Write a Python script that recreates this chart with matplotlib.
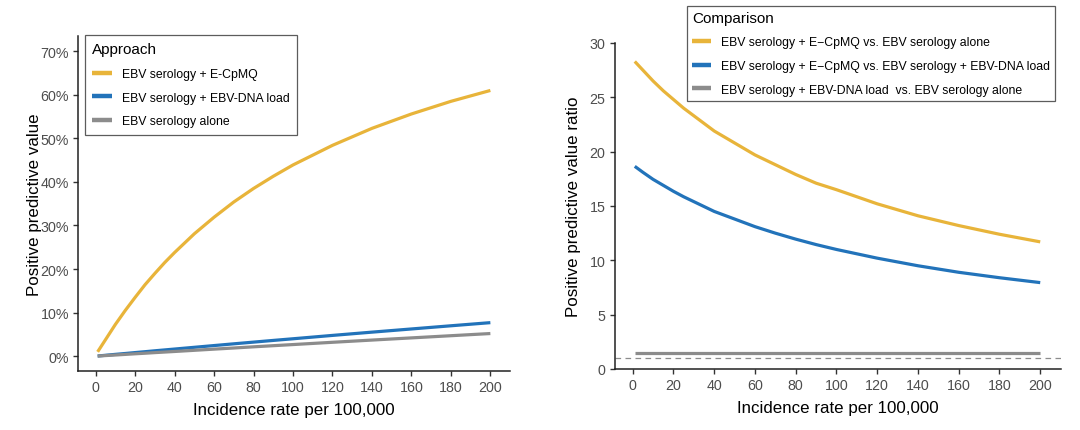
import matplotlib
matplotlib.use("Agg")
import matplotlib.pyplot as plt
from matplotlib.ticker import PercentFormatter

plt.rcParams['font.family'] = ['Liberation Sans', 'DejaVu Sans']

# incidence rate per 100,000 (x positions)
incidence = [1, 5, 10, 15, 20, 25, 30, 35, 40, 50, 60, 70, 80, 90, 100, 120, 140, 160, 180, 200]

# left panel: positive predictive value (%)
ppv_ecpmq = [1.0, 3.8, 7.3, 10.5, 13.5, 16.4, 19.0, 21.5, 23.8, 28.1, 31.9, 35.4, 38.5, 41.3,
             43.9, 48.4, 52.3, 55.6, 58.5, 61.0]
ppv_dna = [0.04, 0.21, 0.42, 0.62, 0.83, 1.03, 1.24, 1.44, 1.64, 2.04, 2.44, 2.84, 3.23, 3.62,
           4.0, 4.77, 5.52, 6.25, 6.98, 7.7]
ppv_alone = [0.03, 0.14, 0.27, 0.41, 0.55, 0.68, 0.82, 0.95, 1.08, 1.35, 1.62, 1.88, 2.15, 2.41,
             2.67, 3.19, 3.70, 4.20, 4.70, 5.2]

# right panel: ratio of positive predictive values
ratio_ecpmq_alone = [28.3, 27.5, 26.5, 25.6, 24.8, 24.0, 23.3, 22.6, 21.9, 20.8, 19.7, 18.8,
                     17.9, 17.1, 16.5, 15.2, 14.1, 13.2, 12.4, 11.7]
ratio_ecpmq_dna = [18.65, 18.1, 17.45, 16.9, 16.35, 15.85, 15.4, 14.95, 14.5, 13.8, 13.1, 12.5,
                   11.95, 11.45, 11.0, 10.2, 9.5, 8.9, 8.4, 7.95]
ratio_dna_alone = [1.5] * len(incidence)

approach_labels = ['EBV serology + E-CpMQ', 'EBV serology + EBV-DNA load', 'EBV serology alone']
comparison_labels = ['EBV serology + E\u2212CpMQ vs. EBV serology alone',
                     'EBV serology + E\u2212CpMQ vs. EBV serology + EBV-DNA load',
                     'EBV serology + EBV-DNA load  vs. EBV serology alone']
x_ticks = [0, 20, 40, 60, 80, 100, 120, 140, 160, 180, 200]

YELLOW = '#E8B43A'
BLUE = '#2273BA'
GREY = '#8C8C8C'
colors = [YELLOW, BLUE, GREY]


def style_axes(ax):
    for s in ['top', 'right']:
        ax.spines[s].set_visible(False)
    for s in ['left', 'bottom']:
        ax.spines[s].set_linewidth(1.1)
        ax.spines[s].set_color('#222222')
    ax.tick_params(axis='both', length=3.5, width=1.0, color='#333333',
                   labelcolor='#4D4D4D', labelsize=10.3, pad=3)
    ax.set_xticks(x_ticks)
    ax.set_xlim(-8.95, 209.95)
    ax.set_xlabel('Incidence rate per 100,000', fontsize=12.2, color='black', labelpad=6)


def style_legend(leg):
    leg.get_frame().set_linewidth(0.9)
    for h in leg.get_lines():
        h.set_linewidth(3.2)


fig = plt.figure(figsize=(10.8, 4.31), dpi=100)

# left panel
ax1 = fig.add_axes([78 / 1080, 1 - 372 / 431, 432 / 1080, 335 / 431])
for y, lab, c in zip([ppv_ecpmq, ppv_dna, ppv_alone], approach_labels, colors):
    ax1.plot(incidence, y, color=c, lw=2.3, label=lab, solid_capstyle='butt')
style_axes(ax1)
ax1.set_ylim(-3.4, 73.5)
ax1.set_yticks(range(0, 71, 10))
ax1.yaxis.set_major_formatter(PercentFormatter(decimals=0))
ax1.set_ylabel('Positive predictive value', fontsize=12.2)
ax1.yaxis.set_label_coords(-0.083, 0.5)
leg1 = ax1.legend(title='Approach', loc='upper left', bbox_to_anchor=(85 / 1080, 1 - 36 / 431),
                  bbox_transform=fig.transFigure, frameon=True, fancybox=False,
                  edgecolor='#333333', fontsize=8.8, title_fontsize=11,
                  handlelength=1.6, handletextpad=0.8, labelspacing=0.95,
                  borderpad=0.6, borderaxespad=0, alignment='left')
style_legend(leg1)

# right panel
ax2 = fig.add_axes([614.5 / 1080, 1 - 370 / 431, 446 / 1080, 326 / 431])
ax2.axhline(1, color='#8C8C8C', lw=0.9, ls=(0, (4.5, 3.5)), zorder=1)
for y, lab, c in zip([ratio_ecpmq_alone, ratio_ecpmq_dna, ratio_dna_alone], comparison_labels, colors):
    ax2.plot(incidence, y, color=c, lw=2.3, label=lab, solid_capstyle='butt')
style_axes(ax2)
ax2.set_ylim(0, 30)
ax2.set_yticks(range(0, 31, 5))
ax2.set_ylabel('Positive predictive value ratio', fontsize=12.2)
ax2.yaxis.set_label_coords(-0.076, 0.5)
leg2 = ax2.legend(title='Comparison', loc='upper left', bbox_to_anchor=(687 / 1080, 1 - 7 / 431),
                  bbox_transform=fig.transFigure, frameon=True, fancybox=False,
                  edgecolor='#333333', fontsize=8.8, title_fontsize=11,
                  handlelength=1.6, handletextpad=0.8, labelspacing=0.95,
                  borderpad=0.4, borderaxespad=0, alignment='left')
style_legend(leg2)

fig.savefig('out.png', dpi=100, facecolor='white')
